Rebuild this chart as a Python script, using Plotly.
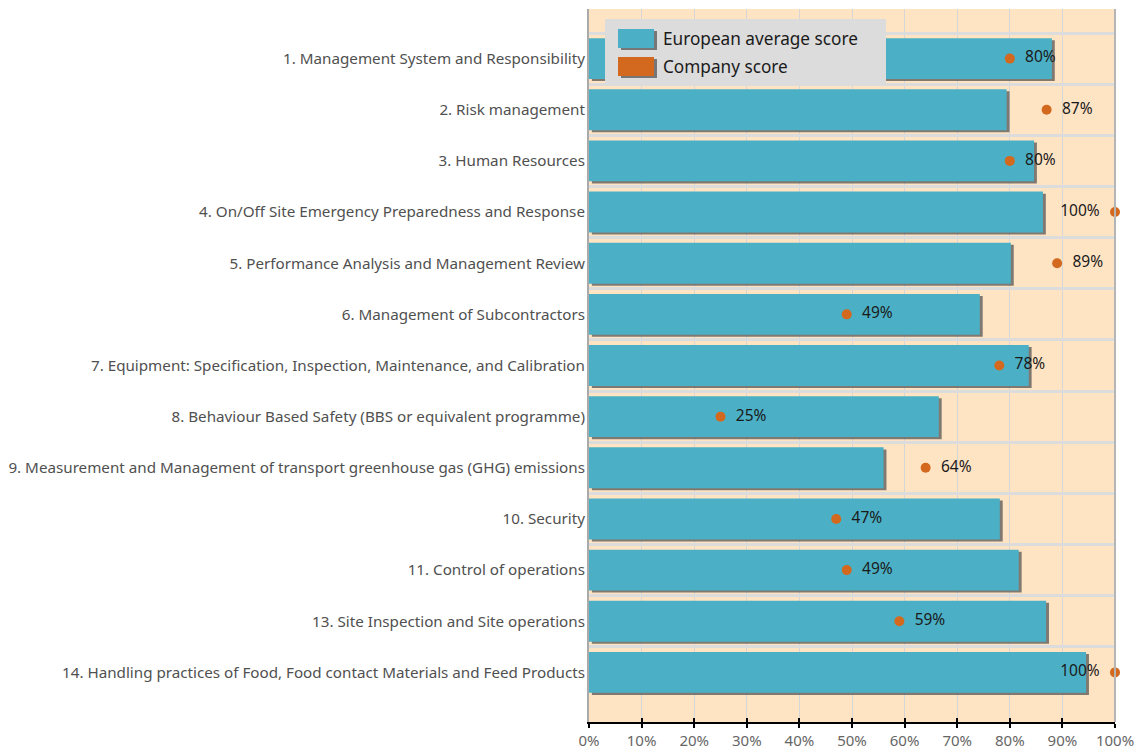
import plotly.graph_objects as go

categories = [
    "1. Management System and Responsibility",
    "2. Risk management",
    "3. Human Resources",
    "4. On/Off Site Emergency Preparedness and Response",
    "5. Performance Analysis and Management Review",
    "6. Management of Subcontractors",
    "7. Equipment: Specification, Inspection, Maintenance, and Calibration",
    "8. Behaviour Based Safety (BBS or equivalent programme)",
    "9. Measurement and Management of transport greenhouse gas (GHG) emissions",
    "10. Security",
    "11. Control of operations",
    "13. Site Inspection and Site operations",
    "14. Handling practices of Food, Food contact Materials and Feed Products",
]
european_avg = [88.0, 79.4, 84.6, 86.3, 80.2, 74.3, 83.6, 66.5, 56.0, 78.1, 81.7, 86.9, 94.5]
company_score = [80, 87, 80, 100, 89, 49, 78, 25, 64, 47, 49, 59, 100]
series_names = ["European average score", "Company score"]
x_tick_values = list(range(0, 101, 10))
x_tick_labels = [f"{v}%" for v in x_tick_values]

BAR_COLOR = "#4BB0C5"
DOT_COLOR = "#D2691E"
SHADOW = "rgba(85,85,85,0.75)"
FONT = "Noto Sans"
NB = "\u00a0"

# the page body adds an 8px offset, so the figure is sized/placed to compensate
OFF = 8
W, H = 1147 - OFF, 751 - OFF
PL, PR, PT, PB = 589, 1115, 9, 722        # target plot area in window pixels
ML, MT = PL - OFF, PT - OFF
MR, MB = (W + OFF) - PR, (H + OFF) - PB
PW, PH = PR - PL, PB - PT


def px_x(p):
    return (p - PL) / PW


def px_y(p):
    return (PB - p) / PH


fig = go.Figure()

# bar shadows
fig.add_trace(go.Bar(
    y=categories, x=european_avg, base=0.55, orientation="h",
    width=0.8, offset=-0.36, marker=dict(color=SHADOW, line=dict(width=0)),
    hoverinfo="skip", showlegend=False,
))
# bars
fig.add_trace(go.Bar(
    y=categories, x=european_avg, orientation="h", name=series_names[0],
    width=0.8, offset=-0.4, marker=dict(color=BAR_COLOR, line=dict(width=0)),
    showlegend=False,
))
# company dots
fig.add_trace(go.Scatter(
    y=categories, x=company_score, mode="markers+text", name=series_names[1],
    marker=dict(color=DOT_COLOR, size=10),
    text=[f"{v}%{NB}{NB}" if v >= 100 else f"{NB}{NB}{v}%" for v in company_score],
    textposition=["middle left" if v >= 100 else "middle right" for v in company_score],
    textfont=dict(family=FONT, size=15.5, color="#1a1a1a"),
    cliponaxis=False, showlegend=False,
))
# overlay axis for crossing ticks
fig.add_trace(go.Scatter(x=[None], y=[None], xaxis="x2", showlegend=False, hoverinfo="skip"))

fig.update_layout(
    width=W, height=H,
    margin=dict(l=ML, r=MR, t=MT, b=MB, autoexpand=False),
    paper_bgcolor="white",
    plot_bgcolor="#FFE4C4",
    barmode="overlay",
    font=dict(family=FONT, size=14, color="#555555"),
    showlegend=False,
    xaxis=dict(
        range=[0, 100], tickmode="array", tickvals=x_tick_values, ticktext=x_tick_labels,
        showgrid=True, gridcolor="#D6D6D6", gridwidth=1,
        showline=True, linecolor="black", linewidth=2,
        ticks="outside", ticklen=4, tickwidth=2, tickcolor="black",
        zeroline=False, automargin=False, tickfont=dict(size=15, color="#666666"),
    ),
    xaxis2=dict(
        overlaying="x", range=[0, 100], tickmode="array", tickvals=x_tick_values, side="bottom",
        showticklabels=False, showgrid=False, ticks="inside", ticklen=4,
        tickwidth=2, tickcolor="black", zeroline=False, showline=False, automargin=False,
    ),
    yaxis=dict(
        type="category", categoryorder="array", categoryarray=categories,
        range=[len(categories) - 1 + 0.97, -0.97],
        tickson="boundaries", showgrid=True, gridcolor="#DCDCDC", gridwidth=3,
        showline=True, linecolor="#AAAAAA", linewidth=2,
        ticks="", ticklabelstandoff=-1, zeroline=False, automargin=False,
        tickfont=dict(size=15.2, color="#505050"),
    ),
)

# right border
fig.add_shape(type="line", xref="paper", yref="paper", x0=1, x1=1, y0=0, y1=1,
              line=dict(color="#B5B5B5", width=2))

# legend (drawn manually to mimic the wide swatches)
fig.add_shape(type="rect", xref="paper", yref="paper",
              x0=px_x(605), x1=px_x(886), y0=px_y(85), y1=px_y(19),
              fillcolor="#DCDCDC", line=dict(width=0), layer="above")
swatches = [(29, 48, BAR_COLOR), (57, 76, DOT_COLOR)]
for (t, b, c), name in zip(swatches, series_names):
    fig.add_shape(type="rect", xref="paper", yref="paper",
                  x0=px_x(621), x1=px_x(657), y0=px_y(b + 2), y1=px_y(t + 2),
                  fillcolor=SHADOW, line=dict(width=0), layer="above")
    fig.add_shape(type="rect", xref="paper", yref="paper",
                  x0=px_x(618), x1=px_x(654), y0=px_y(b), y1=px_y(t),
                  fillcolor=c, line=dict(width=0), layer="above")
    fig.add_annotation(xref="paper", yref="paper", x=px_x(661), y=px_y((t + b) / 2),
                       text=name, showarrow=False, xanchor="left", yanchor="middle",
                       font=dict(family=FONT, size=17.2, color="#1a1a1a"))

fig.write_html("out.html")
